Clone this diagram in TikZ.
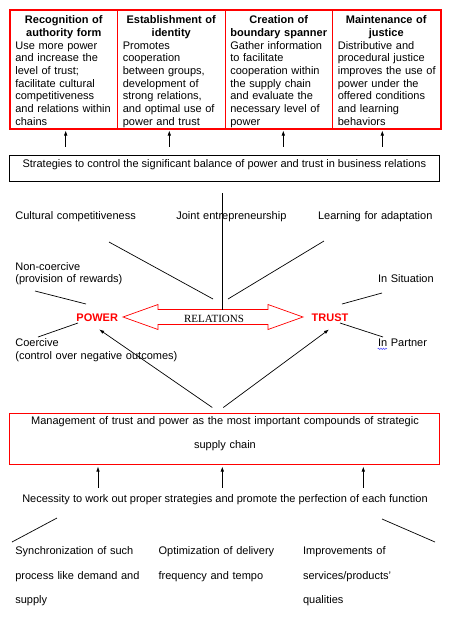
\documentclass[tikz,border=0pt]{standalone}
\usepackage{fontspec}
\setmainfont{Liberation Sans}
\newfontfamily\relfont{Liberation Serif}
\usepackage{tikz}
\usetikzlibrary{arrows.meta, decorations.pathmorphing}

\tikzset{
  colbox/.style = {draw=red, line width=1pt, minimum width=107.5pt, minimum height=117.3pt, inner sep=0pt},
  hd/.style = {font=\fontsize{11}{12.7}\selectfont\bfseries, text width=104pt, align=center, inner sep=0pt, anchor=base},
  bd/.style = {text width=103pt, align=left, inner sep=0pt, anchor=base west},
  lbl/.style = {text width=200pt, align=left, inner sep=0pt, anchor=base west},
  dbl/.style = {font=\fontsize{11}{24.8}\selectfont, text width=140pt, align=left, inner sep=0pt, anchor=base west},
  hub/.style = {font=\fontsize{11}{12.7}\selectfont\bfseries, text=red, inner sep=0pt, anchor=base},
  tip/.style = {-{Latex[length=5pt,width=3.5pt]}},
}

\begin{document}
\begin{tikzpicture}[x=1pt, y=-1pt, font=\fontsize{11}{12.7}\selectfont, line width=0.7pt]
\useasboundingbox (0,0) rectangle (451,625);

% the four strategies
\node[colbox] (col1) at (63.75,69.35) {};
\node[colbox] (col2) at (171.25,69.35) {};
\node[colbox] (col3) at (278.75,69.35) {};
\node[colbox] (col4) at (386.25,69.35) {};
\draw[red, line width=2pt] (col1.north west) rectangle (col4.south east);

\node[hd] (hd1) at (col1 |- 0,23.3) {Recognition of\\authority form};
\node[hd] (hd2) at (col2 |- 0,23.3) {Establishment of\\identity};
\node[hd] (hd3) at (col3 |- 0,23.3) {Creation of\\boundary spanner};
\node[hd] (hd4) at (col4 |- 0,23.3) {Maintenance of\\justice};

\node[bd] (bd1) at (15,49) {Use more power\\and increase the\\level of trust;\\facilitate cultural\\competitiveness\\and relations within\\chains};
\node[bd] (bd2) at (122.5,49) {Promotes\\cooperation\\between groups,\\development of\\strong relations,\\and optimal use of\\power and trust};
\node[bd] (bd3) at (230,49) {Gather information\\to facilitate\\cooperation within\\the supply chain\\and evaluate the\\necessary level of\\power};
\node[bd] (bd4) at (337.5,49) {Distributive and\\procedural justice\\improves the use of\\power under the\\offered conditions\\and learning\\behaviors};

% strategies box
\node[draw, minimum width=430pt, minimum height=26pt, text height=8pt, text depth=10pt, inner sep=0pt] (strat) at (224.3,168)
  {Strategies to control the significant balance of power and trust in business relations};
\foreach \x/\c in {65.7/col1, 169.3/col2, 283.3/col3, 382.3/col4}
  \draw[tip, shorten <=8pt, shorten >=2pt] (\x,0 |- strat.north) -- (\x,0 |- \c.south);

% factors
\node[lbl] (cult) at (15,219) {Cultural competitiveness};
\node[lbl] (joint) at (176,219) {Joint entrepreneurship};
\node[lbl] (learn) at (317.7,219) {Learning for adaptation};
\node[lbl] (noncoer) at (15,270) {Non-coercive\\(provision of rewards)};
\node[lbl] (coer) at (15,346.7) {Coercive\\(control over negative outcomes)};
\node[lbl, text width=70pt] (situ) at (377.7,282.7) {In Situation};
\node[lbl, text width=70pt] (partner) at (377.7,346.7) {In Partner};

% power -- relations -- trust
\node[hub] (power) at (97.2,321) {POWER};
\node[hub] (trust) at (330,321) {TRUST};
\draw[red, shift={(213,317)}] (-90,0) -- (-55,-12.5) -- (-55,-7.5) -- (55,-7.5) -- (55,-12.5) -- (90,0)
  -- (55,12.5) -- (55,7.5) -- (-55,7.5) -- (-55,12.5) -- cycle;
\node[inner sep=0pt, anchor=base, font=\relfont\fontsize{11}{12.7}\selectfont] (rel) at (214,322) {RELATIONS};

\coordinate (vend) at (222.3,310);
\draw[shorten <=12pt] (222.3,0 |- strat.south) -- (vend);

\coordinate (cultA) at (109,242);   \coordinate (cultB) at (213,299);
\coordinate (learnA) at (324,241);  \coordinate (learnB) at (228,299);
\coordinate (ncA) at (35,291);      \coordinate (ncB) at (86,304);
\coordinate (coA) at (38,337);      \coordinate (coB) at (78,323);
\coordinate (siA) at (382,293);     \coordinate (siB) at (342,304);
\coordinate (paA) at (383,337);     \coordinate (paB) at (340,323);
\draw (cultA) -- (cultB);
\draw (learnA) -- (learnB);
\draw (ncA) -- (ncB);
\draw (coA) -- (coB);
\draw (siA) -- (siB);
\draw (paA) -- (paB);
\draw[blue!75, line width=0.5pt, decorate, decoration={snake, amplitude=0.7pt, segment length=2.5pt}]
  (377.7,348.8) -- (387,348.8);

% management box
\node[draw=red, line width=1pt, minimum width=430pt, minimum height=51pt] (mgmt) at (224.3,438.5) {};
\node[font=\fontsize{11}{24.4}\selectfont, text width=420pt, align=center, inner sep=0pt, anchor=base] (mgtxt) at (225,424)
  {Management of trust and power as the most important compounds of strategic\\supply chain};
\draw[tip] ([xshift=-12pt,yshift=5pt]mgmt.north) -- ([xshift=2pt,yshift=-8pt]power.south);
\draw[tip] ([xshift=-1pt,yshift=5pt]mgmt.north) -- ([xshift=-1pt,yshift=-8pt]trust.south);

% necessity
\node[inner sep=0pt, anchor=base] (need) at (225,502)
  {Necessity to work out proper strategies and promote the perfection of each function};
\foreach \x in {98, 222.3, 363.3}
  \draw[tip, shorten <=6pt, shorten >=2pt] (\x,0 |- need.north) -- (\x,0 |- mgmt.south);

\coordinate (synA) at (57,518);  \coordinate (synB) at (12,542);
\coordinate (impA) at (382,519); \coordinate (impB) at (435,542);
\draw (synA) -- (synB);
\draw (impA) -- (impB);

\node[dbl] (sync) at (15,554.3) {Synchronization of such\\process like demand and\\supply};
\node[dbl] (optim) at (158.3,554.3) {Optimization of delivery\\frequency and tempo};
\node[dbl] (impr) at (302.7,554.3) {Improvements of\\services/products’\\qualities};
\end{tikzpicture}
\end{document}
